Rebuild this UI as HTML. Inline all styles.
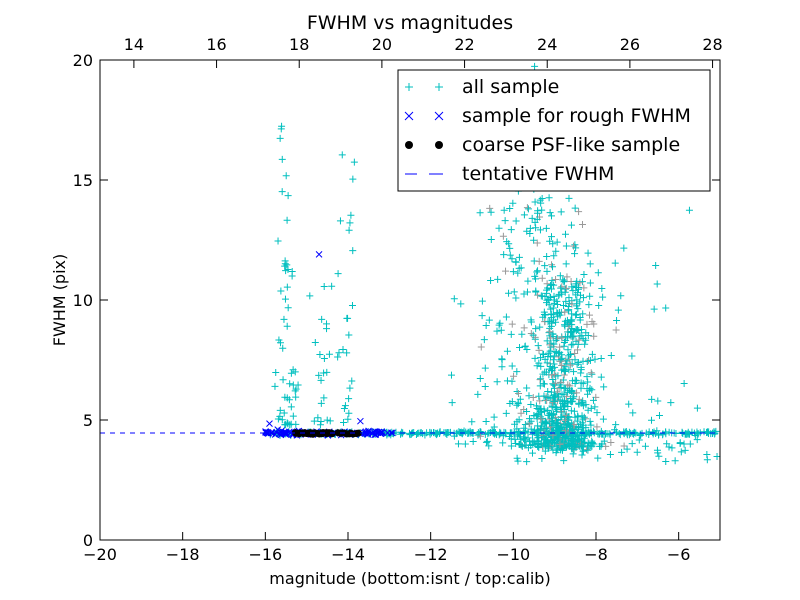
<!DOCTYPE html>
<html><head><meta charset="utf-8">
<style>
html,body{margin:0;padding:0;background:#fff;}
svg{display:block;font-family:"DejaVu Sans","Liberation Sans",sans-serif;}
</style></head>
<body>
<svg id="s" width="800" height="600" viewBox="0 0 800 600" xmlns="http://www.w3.org/2000/svg">
<rect width="800" height="600" fill="#fff"/>
<g id="pts"></g>
<line x1="100" y1="433" x2="720" y2="433" stroke="#0000ff" stroke-width="1" stroke-dasharray="5,5"/>
<rect x="100" y="60" width="620" height="480" fill="none" stroke="#000" stroke-width="1"/>
<g id="ticks" stroke="#000" stroke-width="1"></g>
<g id="labels" font-size="16" fill="#000"></g>
<text x="410" y="29" font-size="19" text-anchor="middle">FWHM vs magnitudes</text>
<text x="410" y="584" font-size="16" text-anchor="middle">magnitude (bottom:isnt / top:calib)</text>
<text x="65" y="300" font-size="16" text-anchor="middle" transform="rotate(-90 65 300)">FWHM (pix)</text>
<rect x="398" y="70" width="312" height="121" fill="#fff" stroke="#000" stroke-width="1"/>
<g font-size="19">
<text x="462" y="93">all sample</text>
<text x="462" y="122">sample for rough FWHM</text>
<text x="462" y="151">coarse PSF-like sample</text>
<text x="462" y="180">tentative FWHM</text>
</g>
<g stroke="#00bfbf" stroke-width="1">
<line x1="405" y1="87" x2="413" y2="87"/><line x1="409" y1="83" x2="409" y2="91"/>
<line x1="435" y1="87" x2="443" y2="87"/><line x1="439" y1="83" x2="439" y2="91"/>
</g>
<g stroke="#0000ff" stroke-width="1">
<line x1="405" y1="112" x2="413" y2="120"/><line x1="405" y1="120" x2="413" y2="112"/>
<line x1="435" y1="112" x2="443" y2="120"/><line x1="435" y1="120" x2="443" y2="112"/>
</g>
<circle cx="409" cy="145" r="4" fill="#000"/><circle cx="439" cy="145" r="4" fill="#000"/>
<g stroke="#0000ff" stroke-width="1"><line x1="405" y1="174" x2="417" y2="174"/><line x1="429" y1="174" x2="443" y2="174"/></g>
</svg>
<script>
(function(){
var s=1234567;function r(){s=(s*1103515245+12345)%2147483648;return s/2147483648;}
function g(){return (r()+r()+r()+r()-2)*0.87;}
function X(v){return 100+(v+20)*620/15;}function Y(v){return 540-v*24;}
var pts=document.getElementById('pts'),h='';
function plus(x,y,c){var px=X(x),py=Y(y);if(px<100||px>720||py<60||py>540)return;
h+='<path d="M'+(px-3.5)+' '+py+'h7M'+px+' '+(py-3.5)+'v7" stroke="'+c+'" fill="none"/>';}
function cross(x,y){var px=X(x),py=Y(y);h+='<path d="M'+(px-3)+' '+(py-3)+'l6 6M'+(px-3)+' '+(py+3)+'l6 -6" stroke="#0000ff" fill="none"/>';}
var C='#00bfbf',G='#999';
var i,x,y;
for(i=0;i<320;i++){x=-16+r()*11;y=4.45+g()*0.08;plus(x,y,C);}
for(i=0;i<55;i++){x=-15.5+g()*0.25;y=4.8+Math.pow(r(),2.0)*14;plus(x,y,C);}
for(i=0;i<22;i++){x=-14.6+g()*0.25;y=4.8+Math.pow(r(),1.5)*6;plus(x,y,C);}
for(i=0;i<25;i++){x=-14.0+g()*0.25;y=4.8+Math.pow(r(),1.3)*11.5;plus(x,y,C);}
for(i=0;i<550;i++){x=-8.8+g()*0.7;y=3.9+Math.pow(r(),2.0)*7+g()*0.3;plus(x,y,r()<0.15?G:C);}
for(i=0;i<300;i++){x=-9.2+g()*1.5;y=3.9+Math.pow(r(),2.0)*10;plus(x,y,r()<0.15?G:C);}
for(i=0;i<60;i++){x=-11.5+r()*6;y=4+Math.pow(r(),2.5)*10;plus(x,y,C);}
for(i=0;i<50;i++){x=-9.6+g()*1.0;y=10+r()*5;plus(x,y,C);}
for(i=0;i<4;i++){x=-9.5+g()*0.5;y=16+r()*4;plus(x,y,r()<0.5?G:C);}
for(i=0;i<30;i++){x=-10+r()*5;y=3.6+g()*0.35;plus(x,y,C);}
for(i=0;i<110;i++){x=-16+r()*3.1;y=4.45+g()*0.08;cross(x,y);}
cross(-14.7,11.9);cross(-13.7,4.95);cross(-15.9,4.85);cross(-15.7,4.6);
for(i=0;i<45;i++){x=-15.3+r()*1.55;y=4.45+g()*0.04;h+='<circle cx="'+X(x)+'" cy="'+Y(y)+'" r="3.5" fill="#000"/>';}
pts.innerHTML=h;
var t='',l='';
for(var v=-20;v<=-6;v+=2){var px=X(v);t+='<line x1="'+px+'" y1="540" x2="'+px+'" y2="532"/>';
l+='<text x="'+px+'" y="560" text-anchor="middle">'+(v<0?'\u2212'+(-v):v)+'</text>';}
for(var v=14;v<=28;v+=2){var px=X(v-33.18);t+='<line x1="'+px+'" y1="60" x2="'+px+'" y2="68"/>';
l+='<text x="'+px+'" y="50" text-anchor="middle">'+v+'</text>';}
for(var v=0;v<=20;v+=5){var py=Y(v);t+='<line x1="100" y1="'+py+'" x2="108" y2="'+py+'"/><line x1="720" y1="'+py+'" x2="712" y2="'+py+'"/>';
l+='<text x="93" y="'+(py+6)+'" text-anchor="end">'+v+'</text>';}
document.getElementById('ticks').innerHTML=t;document.getElementById('labels').innerHTML=l;
})();
</script>
</body></html>
